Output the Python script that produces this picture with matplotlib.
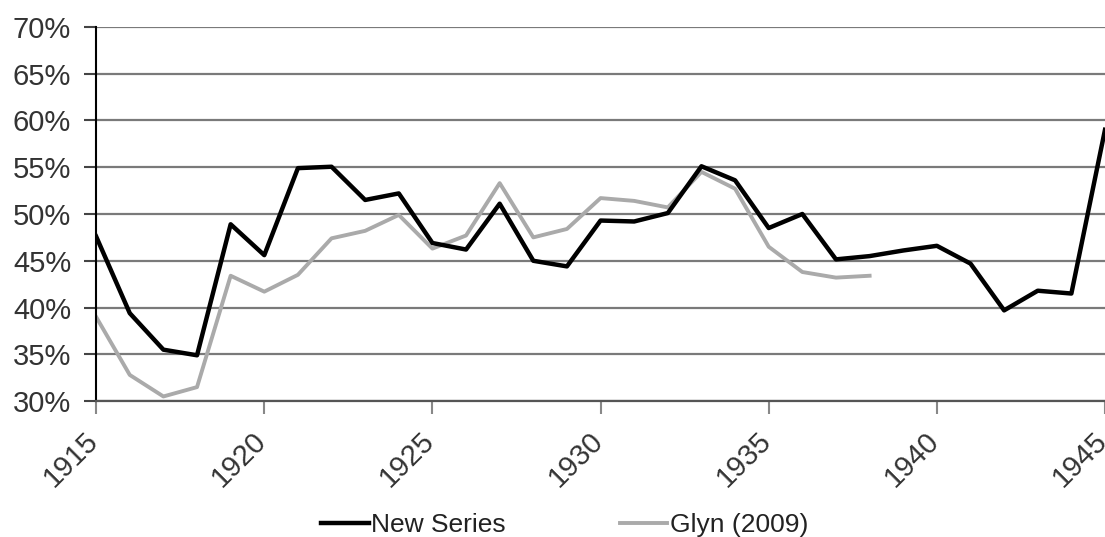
import matplotlib.pyplot as plt
import matplotlib.transforms as mtransforms
from matplotlib.ticker import FuncFormatter, MultipleLocator

plt.rcParams['font.family'] = ['Liberation Sans', 'DejaVu Sans']

years = list(range(1915, 1946))
new_series = [47.6, 39.4, 35.5, 34.9, 48.9, 45.6, 54.9, 55.05, 51.5, 52.2,
              46.9, 46.2, 51.1, 45.0, 44.4, 49.3, 49.2, 50.1, 55.1, 53.6,
              48.5, 50.0, 45.15, 45.5, 46.1, 46.6, 44.7, 39.7, 41.8, 41.5,
              59.0]
glyn_years = list(range(1915, 1939))
glyn = [39.0, 32.8, 30.5, 31.5, 43.4, 41.7, 43.5, 47.4, 48.2, 49.9,
        46.3, 47.7, 53.3, 47.5, 48.4, 51.7, 51.4, 50.7, 54.5, 52.7,
        46.5, 43.8, 43.2, 43.4]

fig = plt.figure(figsize=(11.05, 5.37), dpi=100)
ax = fig.add_axes([0.087, 0.253, 0.913, 0.697])

ax.plot(years, new_series, color='black', lw=3.2, label='New Series', zorder=3)
ax.plot(glyn_years, glyn, color='#aaaaaa', lw=2.8, label='Glyn (2009)', zorder=2)

ax.set_xlim(1915, 1945)
ax.set_ylim(30, 70)
ax.yaxis.set_major_locator(MultipleLocator(5))
ax.xaxis.set_major_locator(MultipleLocator(5))
ax.yaxis.set_major_formatter(FuncFormatter(lambda v, p: f'{v:.0f}%'))
ax.grid(axis='y', color='#7a7a7a', lw=1.6)
ax.set_axisbelow(True)

for s in ['top', 'right']:
    ax.spines[s].set_visible(False)
ax.spines['left'].set_linewidth(1.5)
ax.spines['bottom'].set_linewidth(1.6)
ax.spines['bottom'].set_color('#555555')

ax.tick_params(axis='y', length=9, width=1.5, labelsize=21, colors='#333333', pad=9)
ax.tick_params(axis='y', color='#444444')
ax.tick_params(axis='x', length=9, width=1.5, labelsize=21, colors='#333333', pad=2)
ax.tick_params(axis='x', color='#888888')
# push rotated year labels left and down, like the original
shift = mtransforms.ScaledTranslation(-0.12, -0.10, fig.dpi_scale_trans)
for lab in ax.get_xticklabels():
    lab.set_rotation(45)
    lab.set_ha('right')
    lab.set_rotation_mode('anchor')
    lab.set_transform(lab.get_transform() + shift)

fig.legend(loc='center', bbox_to_anchor=(0.511, 0.022), ncol=2, frameon=False,
           fontsize=19, handlelength=1.8, handletextpad=0.1, columnspacing=4.3,
           labelcolor='#222222')

fig.savefig('out.png', dpi=100)
